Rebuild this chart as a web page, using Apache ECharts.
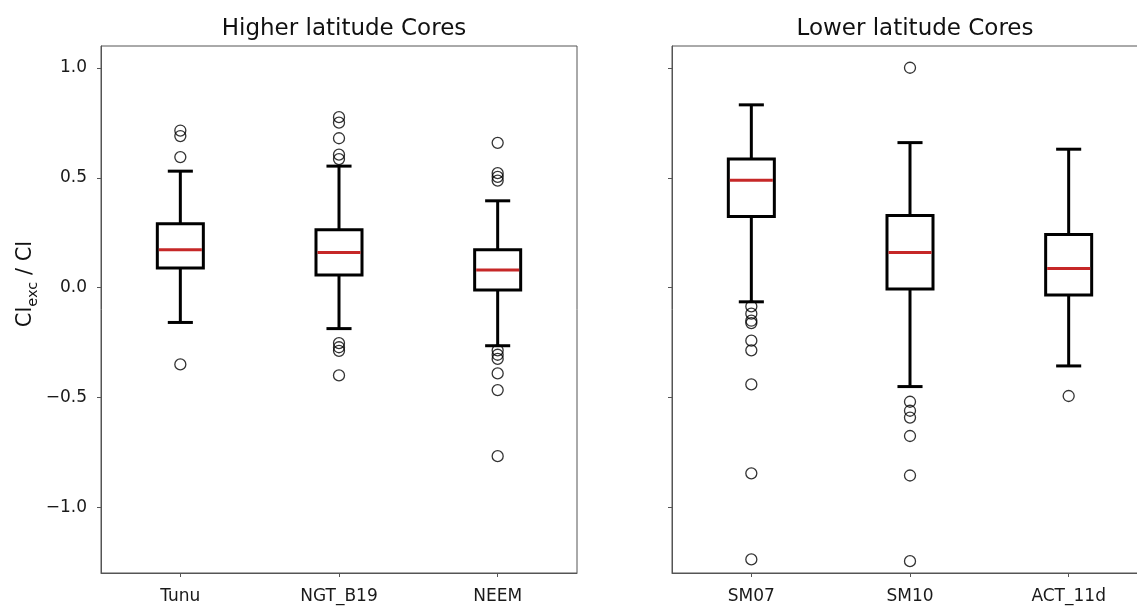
<!DOCTYPE html>
<html>
<head>
<meta charset="utf-8">
<script src="https://cdn.jsdelivr.net/npm/echarts@6/dist/echarts.min.js"></script>
<style>
  html, body { margin: 0; padding: 0; background: #fff; }
  #chart { width: 1137px; height: 609px; }
</style>
</head>
<body>
<div id="chart"></div>
<script>
// Core names per panel
const higherCores = ['Tunu', 'NGT_B19', 'NEEM'];
const lowerCores = ['SM07', 'SM10', 'ACT_11d'];

// Box statistics: [lower whisker, Q1, median, Q3, upper whisker]
const higherBoxes = [
  [-0.159, 0.089, 0.172, 0.290, 0.530],
  [-0.187, 0.057, 0.160, 0.263, 0.553],
  [-0.265, -0.011, 0.080, 0.172, 0.395]
];
const lowerBoxes = [
  [-0.065, 0.324, 0.489, 0.585, 0.832],
  [-0.451, -0.007, 0.160, 0.328, 0.660],
  [-0.357, -0.034, 0.087, 0.242, 0.630]
];

// Outliers for each core
const higherOutliers = [
  [0.715, 0.690, 0.594, -0.350],
  [0.776, 0.751, 0.680, 0.605, 0.585, -0.253, -0.272, -0.288, -0.400],
  [0.659, 0.521, 0.504, 0.487, -0.286, -0.306, -0.325, -0.391, -0.467, -0.768]
];
const lowerOutliers = [
  [-0.086, -0.119, -0.151, -0.162, -0.242, -0.286, -0.441, -0.846, -1.238],
  [1.001, -0.520, -0.561, -0.592, -0.676, -0.856, -1.246],
  [-0.494]
];

// Y axis range and tick labels
const yMin = -1.3;
const yMax = 1.1;
const yTicks = [-1.0, -0.5, 0.0, 0.5, 1.0];

const panelTitles = ['Higher latitude Cores', 'Lower latitude Cores'];

const FONT = 'DejaVu Sans';
const FRAME = '#555';

function renderBox(params, api) {
  const x = api.value(0);
  const lo = api.coord([x, api.value(1)]);
  const q1 = api.coord([x, api.value(2)]);
  const med = api.coord([x, api.value(3)]);
  const q3 = api.coord([x, api.value(4)]);
  const hi = api.coord([x, api.value(5)]);
  const band = api.size([1, 0])[0];
  const bw = band * 0.145;   // half box width
  const cw = band * 0.079;   // half cap width
  const cx = q1[0];
  const line = { stroke: '#000', lineWidth: 3 };
  return {
    type: 'group',
    children: [
      { type: 'line', shape: { x1: cx, y1: q3[1], x2: cx, y2: hi[1] }, style: line },
      { type: 'line', shape: { x1: cx, y1: q1[1], x2: cx, y2: lo[1] }, style: line },
      { type: 'line', shape: { x1: cx - cw, y1: hi[1], x2: cx + cw, y2: hi[1] }, style: line },
      { type: 'line', shape: { x1: cx - cw, y1: lo[1], x2: cx + cw, y2: lo[1] }, style: line },
      { type: 'rect', shape: { x: cx - bw, y: q3[1], width: 2 * bw, height: q1[1] - q3[1] },
        style: { stroke: '#000', lineWidth: 3, fill: 'none' } },
      { type: 'line', shape: { x1: cx - bw + 1.5, y1: med[1], x2: cx + bw - 1.5, y2: med[1] },
        style: { stroke: '#c62828', lineWidth: 3 } }
    ]
  };
}

function fmtTick(v) {
  return v.toFixed(1).replace('-', '\u2212');
}

function xAxisFor(idx, cats) {
  return {
    type: 'category',
    gridIndex: idx,
    data: cats,
    axisLine: { show: true, onZero: false, lineStyle: { color: FRAME, width: 1 } },
    axisTick: { show: true, alignWithLabel: true, length: 4, lineStyle: { color: FRAME } },
    axisLabel: { fontFamily: FONT, fontSize: 17, color: '#1a1a1a', margin: 15 },
    splitLine: { show: false }
  };
}

function yAxisFor(idx, showLabels) {
  return {
    type: 'value',
    gridIndex: idx,
    min: yMin,
    max: yMax,
    axisLine: { show: true, onZero: false, lineStyle: { color: FRAME, width: 1 } },
    axisTick: { show: true, length: 4, customValues: yTicks, lineStyle: { color: FRAME } },
    axisLabel: {
      show: showLabels, customValues: yTicks, formatter: fmtTick,
      fontFamily: FONT, fontSize: 17, color: '#1a1a1a', margin: 14
    },
    splitLine: { show: false }
  };
}

function boxData(boxes) {
  return boxes.map((b, i) => [i].concat(b));
}
function outlierData(groups) {
  const out = [];
  groups.forEach((g, i) => g.forEach(v => out.push([i, v])));
  return out;
}

const outlierStyle = {
  color: 'rgba(0,0,0,0)',
  borderColor: '#000',
  borderWidth: 1.3
};

const chart = echarts.init(document.getElementById('chart'), null, { renderer: 'canvas' });

chart.setOption({
  animation: false,
  backgroundColor: '#fff',
  title: [
    { text: panelTitles[0], left: 339, top: 13, textAlign: 'center',
      textStyle: { fontFamily: FONT, fontSize: 23, fontWeight: 'normal', color: '#111' } },
    { text: panelTitles[1], left: 910, top: 13, textAlign: 'center',
      textStyle: { fontFamily: FONT, fontSize: 23, fontWeight: 'normal', color: '#111' } }
  ],
  grid: [
    { left: 101, top: 46, width: 476, height: 527, show: true, borderColor: FRAME, borderWidth: 1,
      containLabel: false, outerBoundsMode: 'none' },
    { left: 672, top: 46, width: 476, height: 527, show: true, borderColor: FRAME, borderWidth: 1,
      containLabel: false, outerBoundsMode: 'none' }
  ],
  xAxis: [xAxisFor(0, higherCores), xAxisFor(1, lowerCores)],
  yAxis: [yAxisFor(0, true), yAxisFor(1, false)],
  graphic: [{
    type: 'text',
    x: 26,
    y: 284,
    rotation: Math.PI / 2,
    style: {
      text: '{n|Cl}{s|exc}{n| / Cl}',
      align: 'center',
      verticalAlign: 'middle',
      fill: '#111',
      rich: {
        n: { fontFamily: FONT, fontSize: 21, lineHeight: 30, verticalAlign: 'middle', fill: '#111' },
        s: { fontFamily: FONT, fontSize: 14.5, lineHeight: 30, verticalAlign: 'bottom', fill: '#111' }
      }
    }
  }],
  series: [
    {
      type: 'custom', xAxisIndex: 0, yAxisIndex: 0,
      renderItem: renderBox,
      encode: { x: 0, y: [1, 2, 3, 4, 5] },
      data: boxData(higherBoxes), z: 2
    },
    {
      type: 'custom', xAxisIndex: 1, yAxisIndex: 1,
      renderItem: renderBox,
      encode: { x: 0, y: [1, 2, 3, 4, 5] },
      data: boxData(lowerBoxes), z: 2
    },
    {
      type: 'scatter', xAxisIndex: 0, yAxisIndex: 0,
      symbol: 'circle', symbolSize: 11,
      itemStyle: outlierStyle,
      data: outlierData(higherOutliers), z: 3
    },
    {
      type: 'scatter', xAxisIndex: 1, yAxisIndex: 1,
      symbol: 'circle', symbolSize: 11,
      itemStyle: outlierStyle,
      data: outlierData(lowerOutliers), z: 3
    }
  ]
});
</script>
</body>
</html>
